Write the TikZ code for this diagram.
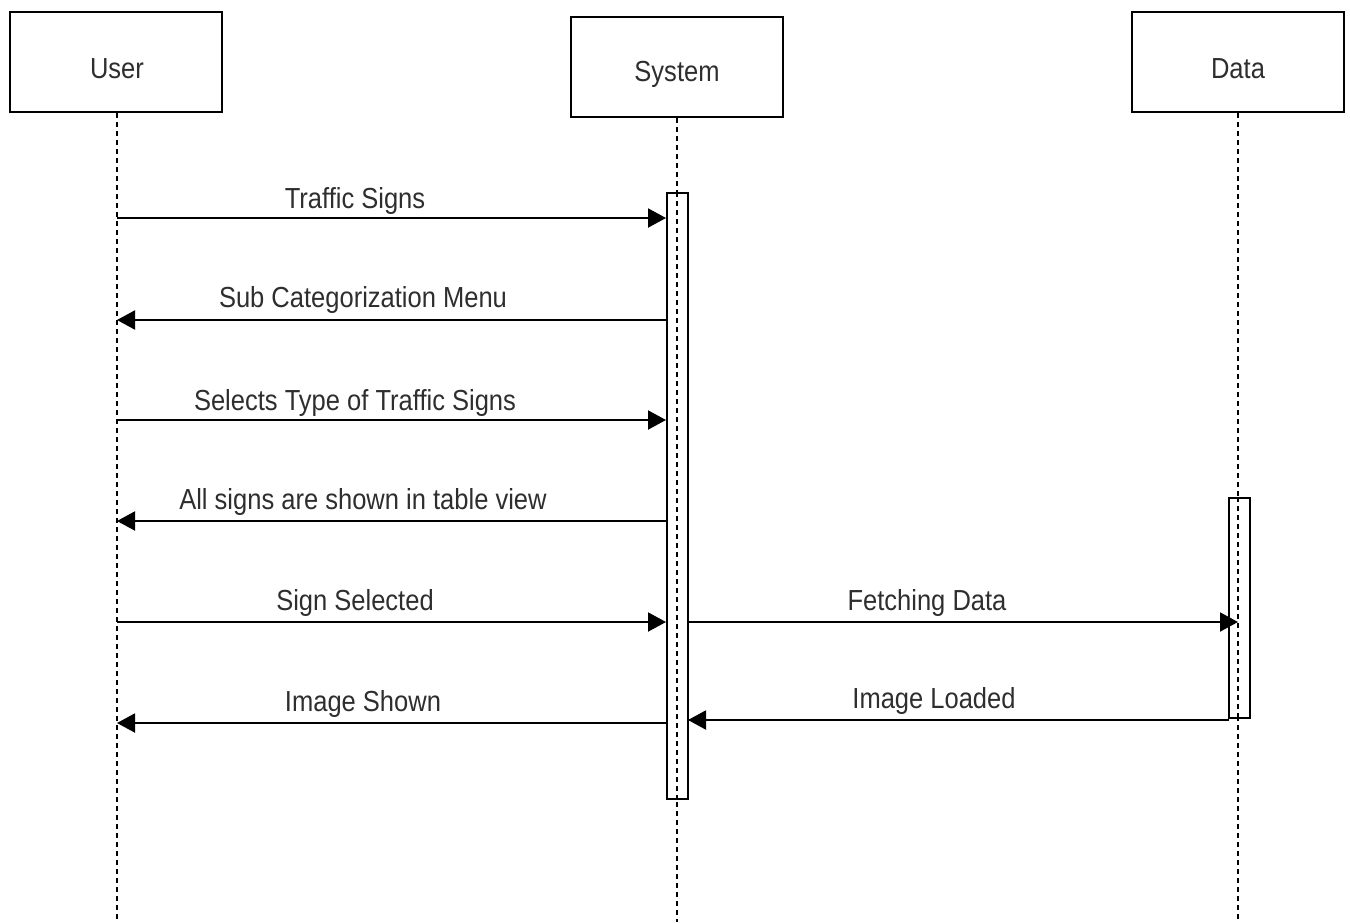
\documentclass[tikz,border=0pt]{standalone}
\usepackage{fontspec}
\setmainfont{Liberation Sans}
\usetikzlibrary{arrows.meta}
\definecolor{txt}{HTML}{2E2E2E}
\tikzset{
  head/.style={draw, line width=2.2pt, fill=white, minimum width=212pt, minimum height=100pt, inner sep=0pt},
  activation/.style={draw, line width=2pt, fill=white, minimum width=21pt, inner sep=0pt},
  lifeline/.style={line width=1.8pt, dash pattern=on 5pt off 4pt},
  msg/.style={line width=2pt, -{Triangle[length=18pt,width=19pt]}},
  lbl/.style={text=txt, font=\fontsize{29}{30}\selectfont, xscale=0.88, anchor=base, inner sep=0pt},
  ttl/.style={text=txt, font=\fontsize{29}{30}\selectfont, xscale=0.88}
}
\begin{document}
\begin{tikzpicture}[x=1pt,y=-1pt]
\useasboundingbox (0,0) rectangle (1350,922);

% participant heads
\node[head] (user) at (116,62) {};
\node[head] (sys)  at (677,67) {};
\node[head] (data) at (1238,62) {};
\node[ttl] (userT) at (117,69) {User};
\node[ttl] (sysT)  at (677,74) {System};
\node[ttl] (dataT) at (1238,69) {Data};

% lifeline ends
\coordinate (userEnd) at (117,922);
\coordinate (sysEnd)  at (677,922);
\coordinate (dataEnd) at (1238,922);
\draw[lifeline] (user.south -| userEnd) -- (userEnd);
\draw[lifeline] (sys.south -| sysEnd) -- (sysEnd);
\draw[lifeline] (data.south -| dataEnd) -- (dataEnd);

% activation bars
\node[activation, minimum height=606pt] (sysAct) at (677,496) {};
\node[activation, minimum height=220pt] (dataAct) at (1239.5,608) {};
\draw[lifeline] (sysAct.north -| sysEnd) -- (sysAct.south -| sysEnd);
\draw[lifeline] (dataAct.north -| dataEnd) -- (dataAct.south -| dataEnd);

% message anchor points
\coordinate (u1) at (117,218); \coordinate (s1) at (666,218);
\coordinate (u2) at (117,320); \coordinate (s2) at (666,320);
\coordinate (u3) at (117,420); \coordinate (s3) at (666,420);
\coordinate (u4) at (117,521); \coordinate (s4) at (666,521);
\coordinate (u5) at (117,622); \coordinate (s5) at (666,622);
\coordinate (s6) at (688,622); \coordinate (d6) at (1238,622);
\coordinate (d7) at (1229,720); \coordinate (s7) at (688,720);
\coordinate (u8) at (117,723); \coordinate (s8) at (666,723);

% messages
\draw[msg] (u1) -- (s1);
\draw[msg] (s2) -- (u2);
\draw[msg] (u3) -- (s3);
\draw[msg] (s4) -- (u4);
\draw[msg] (u5) -- (s5);
\draw[msg] (s6) -- (d6);
\draw[msg] (d7) -- (s7);
\draw[msg] (s8) -- (u8);

% message labels
\node[lbl] (l1) at (355,208) {Traffic Signs};
\node[lbl] (l2) at (363,307) {Sub Categorization Menu};
\node[lbl] (l3) at (355,410) {Selects Type of Traffic Signs};
\node[lbl] (l4) at (363,509) {All signs are shown in table view};
\node[lbl] (l5) at (355,610) {Sign Selected};
\node[lbl] (l6) at (927,610) {Fetching Data};
\node[lbl] (l7) at (934,708) {Image Loaded};
\node[lbl] (l8) at (363,711) {Image Shown};
\end{tikzpicture}
\end{document}
